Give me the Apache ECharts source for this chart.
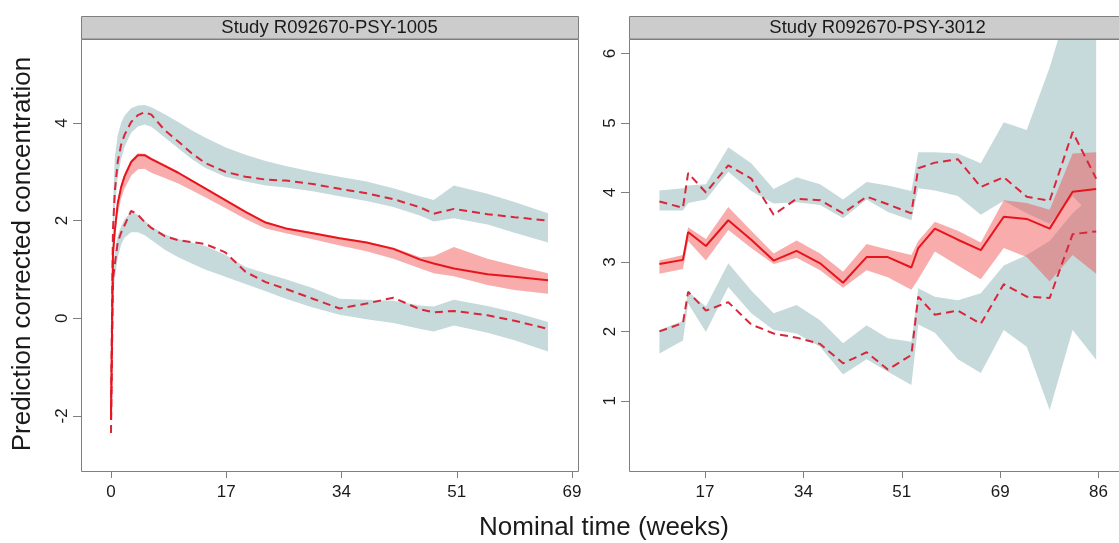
<!DOCTYPE html>
<html>
<head>
<meta charset="utf-8">
<script src="https://cdn.jsdelivr.net/npm/echarts@6/dist/echarts.min.js"></script>
<style>
  html, body { margin: 0; padding: 0; background: #ffffff; }
  #chart { width: 1119px; height: 543px; }
</style>
</head>
<body>
<div id="chart"></div>
<script>
// ---- Study R092670-PSY-1005 (nominal time in weeks) ----
const weeksA  = [0, 0.29, 0.57, 1, 1.5, 2, 3, 4, 5, 6, 8, 10, 12, 14, 17, 20, 23, 26, 30, 34, 38, 42, 46, 48, 51, 56, 60, 65];
const medA    = [-2.08, 1.3, 1.8, 2.35, 2.68, 2.9, 3.2, 3.34, 3.34, 3.26, 3.12, 2.98, 2.82, 2.66, 2.42, 2.18, 1.96, 1.84, 1.74, 1.64, 1.55, 1.42, 1.2, 1.12, 1.02, 0.9, 0.85, 0.78];
const medLoA  = [-2.1, 1.1, 1.6, 2.12, 2.45, 2.65, 2.92, 3.05, 3.06, 2.98, 2.87, 2.76, 2.62, 2.48, 2.26, 2.03, 1.84, 1.74, 1.62, 1.49, 1.37, 1.22, 1.02, 0.92, 0.86, 0.68, 0.58, 0.5];
const medHiA  = [-2.06, 1.4, 1.9, 2.42, 2.74, 2.96, 3.24, 3.38, 3.37, 3.29, 3.15, 3.0, 2.84, 2.68, 2.44, 2.2, 1.98, 1.86, 1.76, 1.66, 1.57, 1.45, 1.25, 1.27, 1.46, 1.22, 1.08, 0.92];
const p95A    = [-1.9, 1.8, 2.6, 3.2, 3.55, 3.75, 4.02, 4.16, 4.22, 4.17, 3.85, 3.62, 3.38, 3.18, 3.0, 2.9, 2.84, 2.82, 2.75, 2.65, 2.56, 2.44, 2.27, 2.14, 2.24, 2.13, 2.07, 2.0];
const p95LoA  = [-2.0, 1.4, 2.2, 2.9, 3.25, 3.5, 3.8, 3.93, 3.97, 3.92, 3.7, 3.48, 3.26, 3.08, 2.9, 2.8, 2.72, 2.68, 2.6, 2.5, 2.4, 2.28, 2.1, 1.98, 2.05, 1.92, 1.75, 1.55];
const p95HiA  = [-1.8, 2.3, 3.3, 3.75, 4.0, 4.15, 4.3, 4.36, 4.37, 4.32, 4.18, 4.02, 3.85, 3.7, 3.5, 3.35, 3.22, 3.12, 3.0, 2.9, 2.8, 2.66, 2.5, 2.42, 2.72, 2.55, 2.38, 2.15];
const p05A    = [-2.35, 0.8, 1.1, 1.55, 1.75, 1.9, 2.2, 2.12, 1.97, 1.85, 1.68, 1.6, 1.56, 1.52, 1.35, 0.95, 0.74, 0.6, 0.4, 0.2, 0.3, 0.42, 0.18, 0.12, 0.15, 0.06, -0.05, -0.22];
const p05LoA  = [-2.45, 0.4, 0.8, 1.25, 1.5, 1.65, 1.76, 1.76, 1.7, 1.6, 1.4, 1.25, 1.12, 1.0, 0.85, 0.7, 0.55, 0.4, 0.22, 0.07, -0.02, -0.1, -0.22, -0.27, -0.15, -0.3, -0.45, -0.68];
const p05HiA  = [-2.25, 1.0, 1.35, 1.7, 1.88, 2.02, 2.18, 2.12, 2.0, 1.88, 1.72, 1.62, 1.55, 1.48, 1.3, 1.05, 0.92, 0.8, 0.62, 0.4, 0.38, 0.36, 0.26, 0.24, 0.38, 0.25, 0.12, -0.08];

// ---- Study R092670-PSY-3012 ----
const weeksB  = [9.2, 13.3, 14.2, 17.3, 21.2, 25.2, 29.1, 33.1, 37.2, 41.2, 45.3, 49.0, 53.1, 54.3, 57.2, 61.2, 65.2, 69.2, 73.2, 77.2, 81.2, 85.3];
const medB    = [2.97, 3.03, 3.43, 3.23, 3.6, 3.32, 3.02, 3.16, 2.98, 2.7, 3.07, 3.07, 2.92, 3.2, 3.48, 3.32, 3.17, 3.65, 3.62, 3.48, 4.01, 4.05];
const medLoB  = [2.83, 2.9, 3.3, 3.02, 3.46, 3.2, 2.97, 3.06, 2.88, 2.63, 2.88, 2.78, 2.6, 2.75, 3.15, 2.95, 2.75, 3.2, 3.07, 2.72, 3.1, 2.83];
const medHiB  = [3.02, 3.1, 3.5, 3.33, 3.79, 3.45, 3.12, 3.31, 3.12, 2.86, 3.26, 3.18, 3.1, 3.3, 3.58, 3.45, 3.28, 3.89, 3.85, 3.75, 4.56, 4.58];
const p95B    = [3.87, 3.78, 4.28, 4.0, 4.39, 4.2, 3.68, 3.91, 3.89, 3.7, 3.94, 3.83, 3.7, 4.35, 4.43, 4.48, 4.08, 4.22, 3.94, 3.88, 4.87, 4.2];
const p95LoB  = [3.74, 3.74, 3.85, 3.9, 4.3, 4.02, 3.84, 3.86, 3.82, 3.63, 3.9, 3.72, 3.6, 4.06, 4.03, 3.95, 3.68, 3.88, 3.7, 3.55, 3.95, 3.6];
const p95HiB  = [4.03, 4.06, 4.1, 4.12, 4.65, 4.42, 4.05, 4.22, 4.12, 3.9, 4.15, 4.1, 4.02, 4.58, 4.58, 4.56, 4.42, 5.01, 4.9, 5.8, 6.9, 7.6];
const p05B    = [2.0, 2.12, 2.57, 2.3, 2.42, 2.1, 1.97, 1.91, 1.82, 1.54, 1.7, 1.45, 1.66, 2.5, 2.24, 2.3, 2.11, 2.68, 2.5, 2.48, 3.4, 3.44];
const p05LoB  = [1.68, 1.87, 2.4, 1.99, 2.64, 2.26, 2.02, 1.97, 1.78, 1.38, 1.6, 1.42, 1.23, 2.1, 1.98, 1.6, 1.4, 2.02, 1.78, 0.87, 2.02, 1.59];
const p05HiB  = [2.02, 2.15, 2.57, 2.36, 2.98, 2.59, 2.26, 2.38, 2.16, 1.83, 2.09, 1.9, 1.85, 2.62, 2.5, 2.45, 2.55, 2.95, 3.1, 3.3, 3.7, 4.0];

// ---- axis ticks: every 120 days, shown in weeks ----
const xTicksA = [0, 120 / 7, 240 / 7, 360 / 7, 480 / 7];
const xTickLabelsA = ['0', '17', '34', '51', '69'];
const xTicksB = [120 / 7, 240 / 7, 360 / 7, 480 / 7, 600 / 7];
const xTickLabelsB = ['17', '34', '51', '69', '86'];
const yTicksA = [-2, 0, 2, 4];
const yTicksB = [1, 2, 3, 4, 5, 6];

const panelTitles = ['Study R092670-PSY-1005', 'Study R092670-PSY-3012'];

const FONT = 'Liberation Sans, Arial, Helvetica, sans-serif';
const TEAL = '#c6dadc';
const PINK = 'rgba(240,70,70,0.45)';
const RED = '#e8141c';
const DASHRED = '#d9263a';
const FRAME = '#7f7f7f';

const pairs = (xs, ys) => xs.map((x, i) => [x, ys[i]]);

function labelFor(ticks, labels) {
  return v => {
    let best = 0;
    ticks.forEach((t, i) => { if (Math.abs(t - v) < Math.abs(ticks[best] - v)) best = i; });
    return labels[best];
  };
}

// shaded interval drawn as one polygon: upper edge forward, lower edge back
function band(g, xs, lo, hi, color, z) {
  return {
    type: 'custom', xAxisIndex: g, yAxisIndex: g, silent: true, z: z, clip: true,
    data: pairs(xs, hi),
    renderItem: function (params, api) {
      if (params.dataIndex !== 0) return null;
      const top = xs.map((x, i) => api.coord([x, hi[i]]));
      const bottom = xs.map((x, i) => api.coord([x, lo[i]])).reverse();
      const cs = params.coordSys;
      return {
        type: 'polygon',
        shape: { points: top.concat(bottom) },
        style: { fill: color },
        clipPath: { type: 'rect', shape: { x: cs.x, y: cs.y, width: cs.width, height: cs.height } }
      };
    }
  };
}

function curve(g, xs, ys, dashed) {
  return { type: 'line', xAxisIndex: g, yAxisIndex: g, data: pairs(xs, ys), symbol: 'none',
    silent: true, z: dashed ? 5 : 6,
    lineStyle: dashed ? { color: DASHRED, width: 2, type: [8, 5] } : { color: RED, width: 2 } };
}

function xAxis(g, min, max, ticks, labels) {
  return { gridIndex: g, type: 'value', min: min, max: max, position: 'bottom',
    axisLine: { show: false, onZero: false }, splitLine: { show: false },
    axisTick: { show: true, customValues: ticks, length: 7, lineStyle: { color: FRAME, width: 1 } },
    axisLabel: { customValues: ticks, formatter: labelFor(ticks, labels), margin: 13,
      fontSize: 17, color: '#1a1a1a', fontFamily: FONT } };
}

function yAxis(g, min, max, ticks) {
  return { gridIndex: g, type: 'value', min: min, max: max, position: 'left',
    axisLine: { show: false, onZero: false }, splitLine: { show: false },
    axisTick: { show: true, customValues: ticks, length: 8, lineStyle: { color: FRAME, width: 1 } },
    axisLabel: { customValues: ticks, rotate: 90, margin: 10, fontSize: 17, color: '#1a1a1a',
      fontFamily: FONT, formatter: v => String(v) } };
}

// plotting regions; the second panel runs on past the right edge of the page
const grids = [
  { left: 81, top: 39, width: 497, height: 432 },
  { left: 629, top: 39, width: 490, height: 432 }
];
const frameWidth = 497;

const series = [
  band(0, weeksA, p95LoA, p95HiA, TEAL, 2),
  band(0, weeksA, p05LoA, p05HiA, TEAL, 2),
  band(0, weeksA, medLoA, medHiA, PINK, 3),
  curve(0, weeksA, p95A, true), curve(0, weeksA, p05A, true), curve(0, weeksA, medA, false),
  band(1, weeksB, p95LoB, p95HiB, TEAL, 2),
  band(1, weeksB, p05LoB, p05HiB, TEAL, 2),
  band(1, weeksB, medLoB, medHiB, PINK, 3),
  curve(1, weeksB, p95B, true), curve(1, weeksB, p05B, true), curve(1, weeksB, medB, false)
];

const graphic = [];
grids.forEach((gr, i) => {
  // panel frame and strip
  graphic.push({ type: 'rect', z: 9, silent: true,
    shape: { x: gr.left + 0.5, y: gr.top + 0.5, width: frameWidth, height: gr.height },
    style: { fill: null, stroke: FRAME, lineWidth: 1 } });
  graphic.push({ type: 'rect', z: 10, shape: { x: gr.left + 0.5, y: 16.5, width: frameWidth, height: 22.5 },
    style: { fill: '#cccccc', stroke: FRAME, lineWidth: 1 } });
  graphic.push({ type: 'text', z: 11, x: gr.left + frameWidth / 2, y: 28,
    style: { text: panelTitles[i], fontSize: 18.5, fontFamily: FONT, fill: '#1a1a1a',
      align: 'center', verticalAlign: 'middle' } });
});
graphic.push({ type: 'text', z: 11, x: 604, y: 528,
  style: { text: 'Nominal time (weeks)', fontSize: 26, fontFamily: FONT, fill: '#1a1a1a',
    align: 'center', verticalAlign: 'middle' } });
graphic.push({ type: 'text', z: 11, x: 23, y: 254, rotation: Math.PI / 2,
  style: { text: 'Prediction corrected concentration', fontSize: 26, fontFamily: FONT, fill: '#1a1a1a',
    align: 'center', verticalAlign: 'middle' } });

const chart = echarts.init(document.getElementById('chart'), null, { renderer: 'canvas' });
chart.setOption({
  animation: false,
  backgroundColor: '#ffffff',
  grid: grids.map(g => Object.assign({ show: false }, g)),
  xAxis: [xAxis(0, -4.46, 69.46, xTicksA, xTickLabelsA), xAxis(1, 3.9, 89.28, xTicksB, xTickLabelsB)],
  yAxis: [yAxis(0, -3.13, 5.72, yTicksA), yAxis(1, -0.01, 6.21, yTicksB)],
  series: series,
  graphic: graphic
});
</script>
</body>
</html>
